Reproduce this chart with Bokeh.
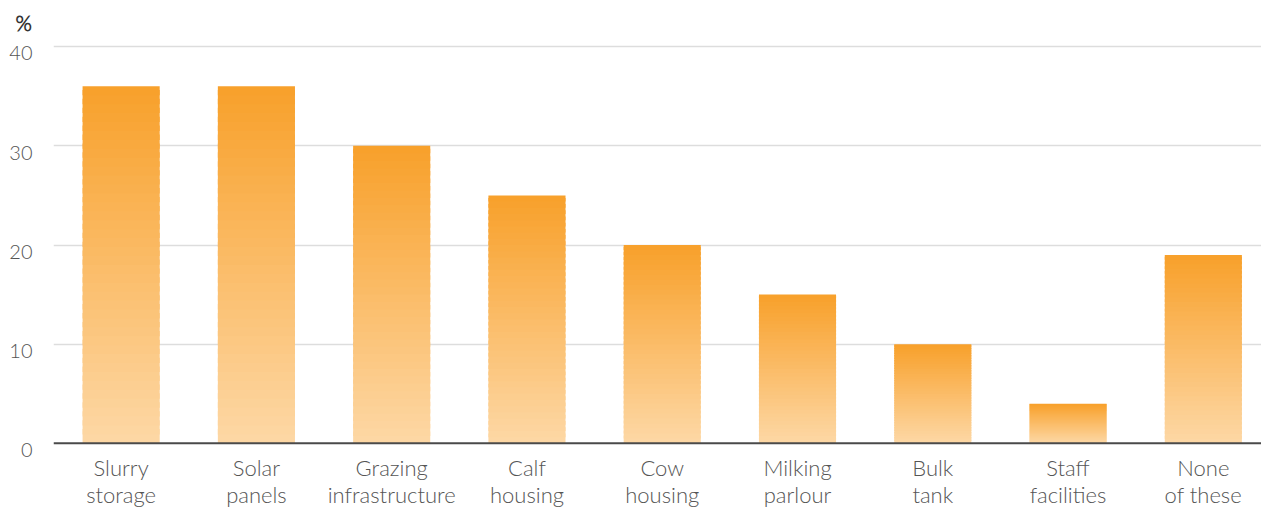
from bokeh.plotting import figure
from bokeh.models import Range1d, FixedTicker, LinearAxis, ColumnDataSource, Span
from bokeh.embed import file_html
from bokeh.resources import INLINE

label_line1 = ["Slurry", "Solar", "Grazing", "Calf", "Cow", "Milking", "Bulk", "Staff", "None"]
label_line2 = ["storage", "panels", "infrastructure", "housing", "housing", "parlour", "tank",
               "facilities", "of these"]
values = [36, 36, 30, 25, 20, 15, 10, 4, 19]
y_ticks = [0, 10, 20, 30, 40]

FONT = "Lato Light, Lato"
TOP_RGB = (248, 160, 42)
BOTTOM_RGB = (253, 216, 166)
SLICES = 40
Y_START = -0.72
Y_END = 40.62
LABEL_SHIFT = 0.68   # y tick labels sit a little below their gridlines

p = figure(width=1261, height=510, output_backend="svg", toolbar_location=None,
           x_range=Range1d(-0.5, 8.43), y_range=Range1d(Y_START, Y_END),
           min_border_left=53, min_border_right=0, min_border_top=40, min_border_bottom=60,
           title="%")
p.outline_line_color = None
p.background_fill_color = "white"
p.border_fill_color = "white"
p.title.text_font = FONT
p.title.text_font_size = "21px"
p.title.text_font_style = "bold"
p.title.text_color = "#333333"
p.title.align = "left"
p.title.offset = -38
p.title.standoff = 12

# each bar is filled with a vertical gradient, built from thin stacked slices;
# every slice overlaps the next one a little so no seams show
xs, bottoms, tops, colors = [], [], [], []
for i, v in enumerate(values):
    for k in range(SLICES):
        t = (k + 0.5) / SLICES
        r = round(BOTTOM_RGB[0] + (TOP_RGB[0] - BOTTOM_RGB[0]) * t)
        g = round(BOTTOM_RGB[1] + (TOP_RGB[1] - BOTTOM_RGB[1]) * t)
        b = round(BOTTOM_RGB[2] + (TOP_RGB[2] - BOTTOM_RGB[2]) * t)
        xs.append(i)
        bottoms.append(v * k / SLICES)
        tops.append(min(v, v * (k + 1.6) / SLICES))
        colors.append("#%02x%02x%02x" % (r, g, b))
src = ColumnDataSource(dict(x=xs, bottom=bottoms, top=tops, color=colors))
p.vbar(x="x", bottom="bottom", top="top", width=0.57, fill_color="color",
       line_color=None, source=src)

# baseline at zero
p.add_layout(Span(location=0, dimension="width", line_color="#4a4a4a", line_width=2))


def style_axis(ax, size, standoff):
    ax.axis_line_color = None
    ax.major_tick_line_color = None
    ax.minor_tick_line_color = None
    ax.major_tick_out = 0
    ax.major_tick_in = 0
    ax.major_label_text_font = FONT
    ax.major_label_text_font_size = size
    ax.major_label_text_color = "#555555"
    ax.major_label_standoff = standoff


# category labels: one axis per text line
p.xaxis.ticker = FixedTicker(ticks=list(range(len(values))))
p.xaxis.major_label_overrides = {i: s for i, s in enumerate(label_line1)}
style_axis(p.xaxis[0], "22px", 3)

xax2 = LinearAxis(ticker=FixedTicker(ticks=list(range(len(values)))),
                  major_label_overrides={i: s for i, s in enumerate(label_line2)})
style_axis(xax2, "22px", -3)
p.add_layout(xax2, "below")

# y labels come from an axis on a range shifted slightly, so each label
# sits just under its gridline
p.yaxis.visible = False
p.extra_y_ranges = {"labels": Range1d(Y_START + LABEL_SHIFT, Y_END + LABEL_SHIFT)}
yax = LinearAxis(y_range_name="labels", ticker=FixedTicker(ticks=y_ticks))
style_axis(yax, "20px", 21)
p.add_layout(yax, "left")

p.xgrid.grid_line_color = None
p.ygrid.ticker = FixedTicker(ticks=[10, 20, 30, 40])
p.ygrid.grid_line_color = "#dddddd"
p.ygrid.grid_line_width = 1.5

open("out.html", "w").write(file_html(p, INLINE))
